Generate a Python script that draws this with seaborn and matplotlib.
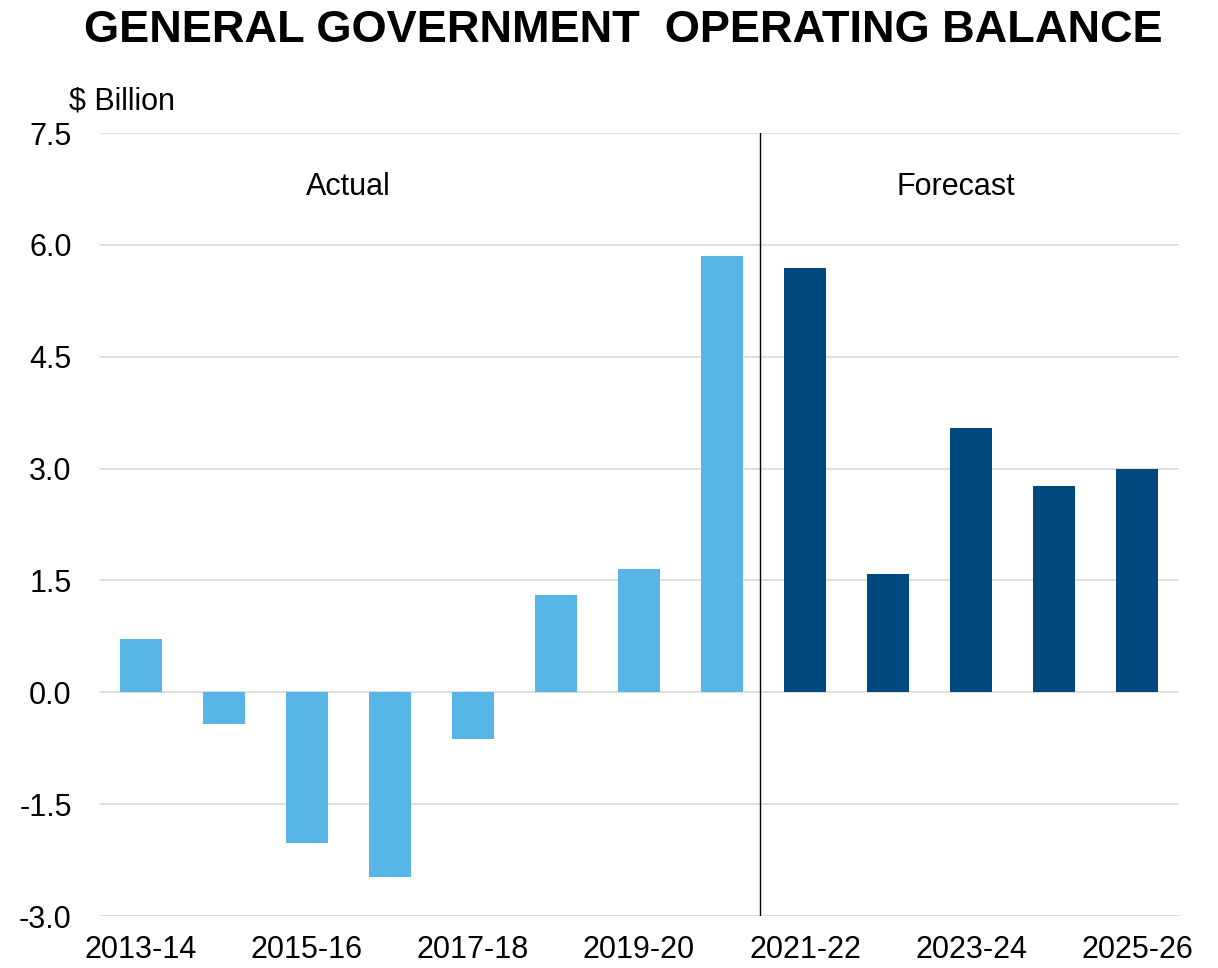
import matplotlib
matplotlib.use("Agg")
import matplotlib.pyplot as plt
import seaborn as sns
import pandas as pd

years = ["2013-14", "2014-15", "2015-16", "2016-17", "2017-18", "2018-19", "2019-20",
         "2020-21", "2021-22", "2022-23", "2023-24", "2024-25", "2025-26"]
values = [0.71, -0.43, -2.02, -2.48, -0.62, 1.31, 1.66, 5.85, 5.69, 1.58, 3.54, 2.76, 3.00]
period = ["Actual"] * 8 + ["Forecast"] * 5
tick_labels = ["2013-14", "", "2015-16", "", "2017-18", "", "2019-20", "",
               "2021-22", "", "2023-24", "", "2025-26"]
yticks = [-3.0, -1.5, 0.0, 1.5, 3.0, 4.5, 6.0, 7.5]

sns.set_theme(style="white")
plt.rcParams['font.family'] = ['Liberation Sans', 'DejaVu Sans']

df = pd.DataFrame({"year": years, "value": values, "period": period})

fig = plt.figure(figsize=(12.18, 9.68), dpi=100)
ax = fig.add_axes([0.0817, 0.0537, 0.8859, 0.8089])

sns.barplot(data=df, x="year", y="value", hue="period",
            palette={"Actual": "#57B6E6", "Forecast": "#00497F"},
            saturation=1, dodge=False, width=0.5, legend=False, ax=ax,
            zorder=3, edgecolor="none", linewidth=0)

ax.set_xlim(-0.5, 12.5)
ax.set_ylim(-3.0, 7.5)
ax.set_yticks(yticks)
ax.set_yticklabels([f"{v:.1f}" for v in yticks])
ax.set_xticks(range(len(years)))
ax.set_xticklabels(tick_labels)
ax.yaxis.grid(True, color="#D9D9D9", linewidth=1.2, zorder=0)
ax.xaxis.grid(False)
for s in ax.spines.values():
    s.set_visible(False)
ax.tick_params(axis="y", length=0, pad=20, labelsize=22, colors="black")
ax.tick_params(axis="x", length=0, pad=14, labelsize=22, colors="black")
ax.set_xlabel("")
ax.set_ylabel("")

ax.axvline(7.46, color="black", linewidth=1.0, zorder=4)

ax.text(2.5, 6.78, "Actual", ha="center", va="center", fontsize=22, color="black")
ax.text(9.82, 6.78, "Forecast", ha="center", va="center", fontsize=22, color="black")

fig.text(0.0567, 1 - 101 / 968, "$ Billion", ha="left", va="center", fontsize=22, color="black")
fig.text(0.512, 1 - 30 / 968, "GENERAL GOVERNMENT  OPERATING BALANCE",
         ha="center", va="center", fontsize=32.5, fontweight="bold", color="black")

fig.savefig("out.png", dpi=100, facecolor="white")
